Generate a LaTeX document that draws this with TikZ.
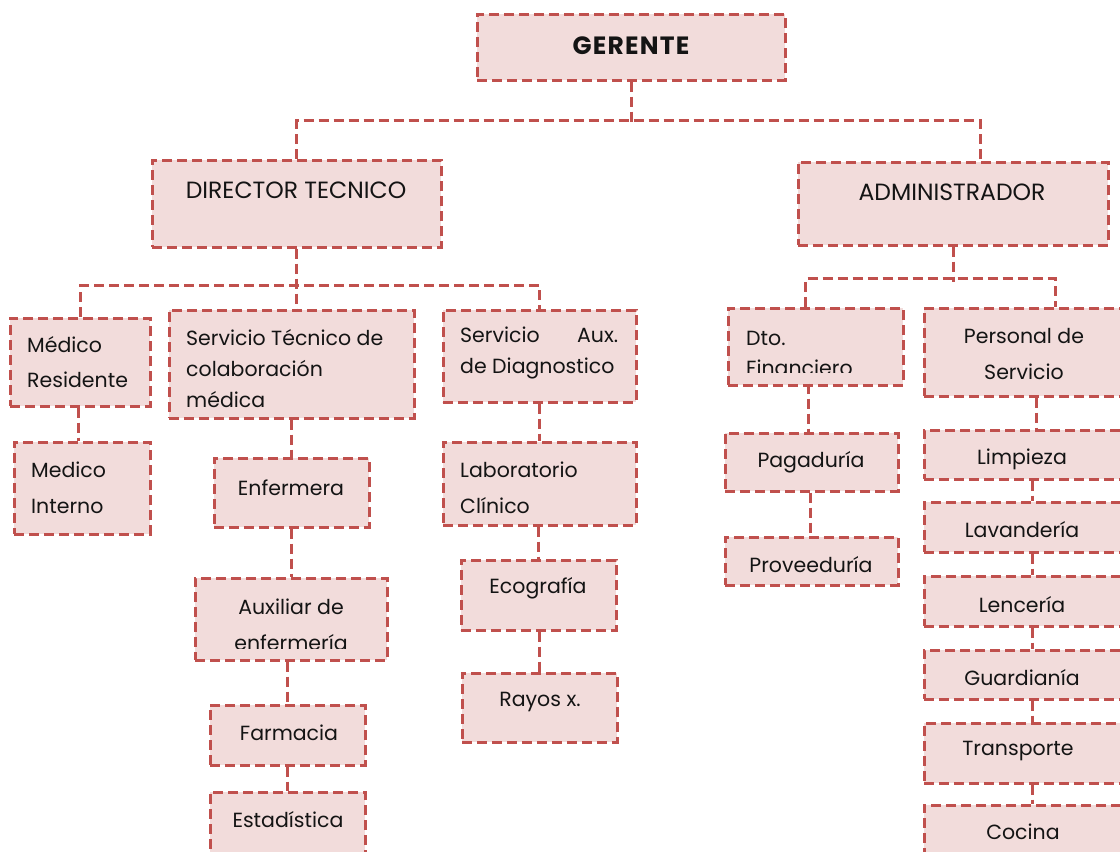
\documentclass[tikz,border=0pt]{standalone}
\usepackage{fontspec}
\setmainfont{Poppins}
\definecolor{bord}{HTML}{C0504D}
\definecolor{boxfill}{HTML}{F2DCDB}
\definecolor{ink}{HTML}{141414}
\tikzset{
  box/.style={draw=bord, fill=boxfill, line width=3pt, dash pattern=on 10pt off 5pt, inner sep=0pt},
  conn/.style={draw=bord, line width=3pt, dash pattern=on 10pt off 5pt},
  txt/.style={inner sep=0pt, text=ink, font=\fontsize{20.5}{35}\selectfont},
  capt/.style={txt, font=\fontsize{23.5}{28}\selectfont},
}
\newcommand\bx[5]{\node[box, minimum width={(#4-#2)*1pt}, minimum height={(#5-#3)*1pt}] (#1) at ({(#2+#4)/2},{(#3+#5)/2}) {};}
\begin{document}
\begin{tikzpicture}[x=1pt,y=-1pt]
\useasboundingbox (0,0) rectangle (1120,852);
% boxes
\bx{ger}{477}{14}{785}{80}
\bx{dir}{152}{160}{441}{247}
\bx{adm}{798}{162}{1108}{245}
\bx{res}{10}{318}{150}{406}
\bx{stc}{169}{310}{414}{418}
\bx{aux}{443}{310}{636}{402}
\bx{int}{14}{442}{150}{534}
\bx{enf}{214}{458}{369}{527}
\bx{auxe}{195}{578}{387}{660}
\bx{far}{210}{705}{365}{765}
\bx{est}{210}{792}{365}{870}
\bx{lab}{443}{442}{636}{525}
\bx{eco}{461}{560}{616}{630}
\bx{ray}{462}{673}{617}{742}
\bx{fin}{728}{308}{903}{385}
\bx{per}{924}{308}{1140}{396}
\bx{pag}{725}{433}{898}{491}
\bx{pro}{725}{537}{898}{585}
\bx{lim}{924}{430}{1140}{479}
\bx{lav}{924}{502}{1140}{552}
\bx{len}{924}{576}{1140}{626}
\bx{gua}{924}{650}{1140}{699}
\bx{tra}{924}{723}{1140}{783}
\bx{coc}{924}{805}{1140}{870}
% connectors
\draw[conn] (ger.south) -- ++(0,42);
\draw[conn] (dir.north) -- ++(0,-38) -| ([xshift=27pt]adm.north);
\draw[conn] (dir.south) -- (dir.south |- stc.north);
\draw[conn] (res.north) -- ++(0,-31) -| (aux.north);
\draw[conn] (adm.south) -- ++(0,35);
\draw[conn] ([xshift=-10pt]fin.north) -- ++(0,-28) -| ([xshift=23pt]per.north);
\draw[conn] ([xshift=-2pt]res.south) -- ([xshift=-2pt]res.south |- int.north);
\draw[conn] (stc.south) -- (stc.south |- enf.north);
\draw[conn] (enf.south) -- (enf.south |- auxe.north);
\draw[conn] (far.north |- auxe.south) -- (far.north);
\draw[conn] (far.south) -- (est.north);
\draw[conn] (aux.south) -- (lab.north);
\draw[conn] (eco.north |- lab.south) -- (eco.north);
\draw[conn] (ray.north |- eco.south) -- (ray.north);
\draw[conn] (pag.north -| 808,0) ++(0,-48) -- (pag.north -| 808,0);
\draw[conn] (pag.south -| 810,0) -- (pro.north -| 810,0);
\draw[conn] ([xshift=4pt]per.south) -- ([xshift=4pt]per.south |- lim.north);
\draw[conn] (lim.south) -- (lav.north);
\draw[conn] (lav.south) -- (len.north);
\draw[conn] (len.south) -- (gua.north);
\draw[conn] (gua.south) -- (tra.north);
\draw[conn] (tra.south) -- (coc.north);
% texts
\node[txt, font=\fontsize{25}{30}\selectfont\bfseries\addfontfeature{LetterSpace=5}] (ger-t) at (631,46) {GERENTE};
\node[capt] (dir-t) at (296,190) {DIRECTOR TECNICO};
\node[capt] (adm-t) at (952,192) {ADMINISTRADOR};
\node[txt, anchor=west, align=left] (res-t) at (27,362) {Médico\\Residente};
\node[txt, anchor=west, align=left, font=\fontsize{20.5}{31}\selectfont] (stc-t) at (186,369) {Servicio Técnico de\\colaboración\\médica};
\node[txt, anchor=west, align=left, font=\fontsize{20.5}{31}\selectfont] (aux-t) at (460,353) {\makebox[158pt][s]{Servicio\hfill Aux.}\\de Diagnostico};
\node[txt, anchor=west, align=left, font=\fontsize{20.5}{36}\selectfont] (int-t) at (31,488) {Medico\\Interno};
\node[txt] (enf-t) at (291,488) {Enfermera};
\begin{scope}
\clip (195,578) rectangle (387,648);
\node[txt, align=center, font=\fontsize{20.5}{36}\selectfont] (auxe-t) at (291,625) {Auxiliar de\\enfermería};
\end{scope}
\node[txt] (far-t) at (289,733) {Farmacia};
\node[txt] (est-t) at (288,820) {Estadística};
\node[txt, anchor=west, align=left, font=\fontsize{20.5}{36}\selectfont] (lab-t) at (460,488) {Laboratorio\\Clínico};
\node[txt] (eco-t) at (538,588) {Ecografía};
\node[txt] (ray-t) at (540,702) {Rayos x.};
\begin{scope}
\clip (728,308) rectangle (903,372);
\node[txt, anchor=west, align=left, font=\fontsize{20.5}{30}\selectfont] (fin-t) at (746,353) {Dto.\\Financiero};
\end{scope}
\node[txt, align=center, font=\fontsize{20.5}{36}\selectfont] (per-t) at (1024,354) {Personal de\\Servicio};
\node[txt] (pag-t) at (811,462) {Pagaduría};
\node[txt] (pro-t) at (811,565) {Proveeduría};
\node[txt] (lim-t) at (1022,459) {Limpieza};
\node[txt] (lav-t) at (1022,530) {Lavandería};
\node[txt] (len-t) at (1022,605) {Lencería};
\node[txt] (gua-t) at (1022,678) {Guardianía};
\node[txt] (tra-t) at (1018,751) {Transporte};
\node[txt] (coc-t) at (1023,832) {Cocina};
\end{tikzpicture}
\end{document}
